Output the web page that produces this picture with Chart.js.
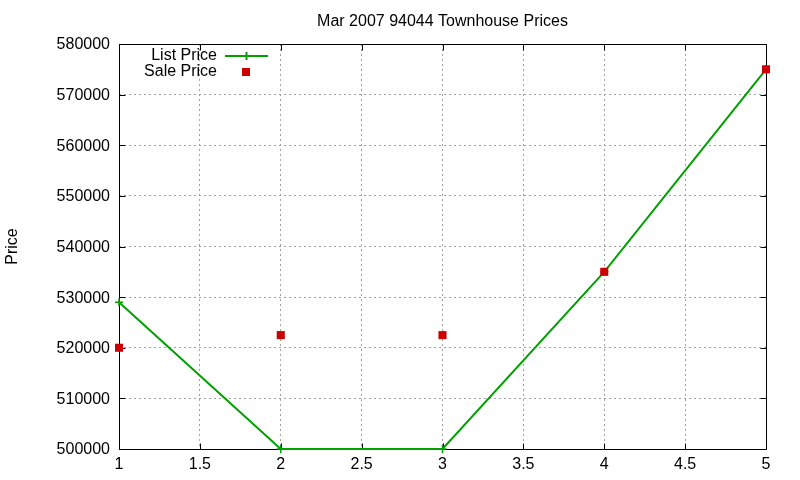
<!DOCTYPE html>
<html>
<head>
<meta charset="utf-8">
<script src="https://cdn.jsdelivr.net/npm/chart.js@4/dist/chart.umd.min.js"></script>
<style>
  body { margin: 0; background: #fff; }
  canvas { display: block; }
</style>
</head>
<body>
<canvas id="chart" width="800" height="480"></canvas>
<script>
// values
const xValues = [1, 2, 3, 4, 5];
const listPrice = [529000, 500000, 500000, 535000, 575000];
const salePrice = [520000, 522500, 522500, 535000, 575000];
const xTicks = [1, 1.5, 2, 2.5, 3, 3.5, 4, 4.5, 5];
const yTicks = [500000, 510000, 520000, 530000, 540000, 550000, 560000, 570000, 580000];

const FONT = '"Liberation Sans", Arial, sans-serif';
const GREEN = '#00a000';
const RED = '#cc0000';

// gnuplot-like frame, inward tics, title, y label and inner legend
const gnuplotDecor = {
  id: 'gnuplotDecor',
  beforeDatasetsDraw(chart) {
    const { ctx, chartArea: a, scales: { x, y } } = chart;
    const L = Math.round(a.left) + 0.5, R = Math.round(a.right) + 0.5;
    const T = Math.round(a.top) + 0.5, B = Math.round(a.bottom) + 0.5;
    const tl = 6;
    ctx.save();
    ctx.strokeStyle = '#000';
    ctx.lineWidth = 1;
    ctx.beginPath();
    ctx.rect(L, T, R - L, B - T);
    xTicks.forEach(v => {
      const px = Math.round(x.getPixelForValue(v)) + 0.5;
      ctx.moveTo(px, B); ctx.lineTo(px, B - tl);
      ctx.moveTo(px, T); ctx.lineTo(px, T + tl);
    });
    yTicks.forEach(v => {
      const py = Math.round(y.getPixelForValue(v)) + 0.5;
      ctx.moveTo(L, py); ctx.lineTo(L + tl, py);
      ctx.moveTo(R, py); ctx.lineTo(R - tl, py);
    });
    ctx.stroke();
    ctx.restore();
  },
  afterDraw(chart) {
    const { ctx, chartArea: a } = chart;
    ctx.save();
    ctx.fillStyle = '#000';
    ctx.font = '16px ' + FONT;
    ctx.textBaseline = 'middle';

    // title
    ctx.textAlign = 'center';
    ctx.fillText('Mar 2007 94044 Townhouse Prices', (a.left + a.right) / 2, 22);

    // y axis label
    ctx.save();
    ctx.translate(13, (a.top + a.bottom) / 2);
    ctx.rotate(-Math.PI / 2);
    ctx.fillText('Price', 0, 0);
    ctx.restore();

    // legend
    ctx.textAlign = 'right';
    ctx.fillText('List Price', 217, 56);
    ctx.fillText('Sale Price', 217, 72);
    ctx.strokeStyle = GREEN;
    ctx.lineWidth = 2;
    ctx.beginPath();
    ctx.moveTo(225, 56); ctx.lineTo(268, 56);
    ctx.moveTo(246.5, 52); ctx.lineTo(246.5, 60);
    ctx.stroke();
    ctx.fillStyle = RED;
    ctx.fillRect(242, 68, 8, 8);
    ctx.restore();
  }
};

new Chart(document.getElementById('chart'), {
  type: 'line',
  data: {
    datasets: [
      {
        label: 'List Price',
        data: xValues.map((v, i) => ({ x: v, y: listPrice[i] })),
        borderColor: GREEN,
        backgroundColor: GREEN,
        borderWidth: 2,
        pointStyle: 'cross',
        pointRadius: 4,
        pointBorderWidth: 1.5,
        tension: 0,
        clip: false,
        order: 2,
      },
      {
        label: 'Sale Price',
        data: xValues.map((v, i) => ({ x: v, y: salePrice[i] })),
        showLine: false,
        backgroundColor: RED,
        borderColor: RED,
        pointStyle: 'rect',
        pointRadius: 5.7,
        pointBorderWidth: 0,
        clip: false,
        order: 1,
      },
    ],
  },
  options: {
    responsive: false,
    animation: false,
    layout: { padding: { top: 44, right: 34, bottom: 0, left: 0 } },
    plugins: {
      legend: { display: false },
      title: { display: false },
      tooltip: { enabled: false },
    },
    scales: {
      x: {
        type: 'linear',
        min: 1,
        max: 5,
        afterFit: s => { s.height = 31; },
        afterBuildTicks: s => { s.ticks = xTicks.map(v => ({ value: v })); },
        grid: { color: '#a0a0a0', lineWidth: 1, drawTicks: false },
        border: { display: false, dash: [2, 3] },
        ticks: {
          padding: 6,
          color: '#000',
          font: { family: FONT, size: 16 },
          maxRotation: 0,
          callback: v => String(v),
        },
      },
      y: {
        type: 'linear',
        min: 500000,
        max: 580000,
        afterFit: s => { s.width = 119; },
        afterBuildTicks: s => { s.ticks = yTicks.map(v => ({ value: v })); },
        grid: { color: '#a0a0a0', lineWidth: 1, drawTicks: false },
        border: { display: false, dash: [2, 3] },
        ticks: {
          padding: 9,
          labelOffset: 1,
          color: '#000',
          font: { family: FONT, size: 16 },
          callback: v => String(v),
        },
      },
    },
  },
  plugins: [gnuplotDecor],
});
</script>
</body>
</html>
